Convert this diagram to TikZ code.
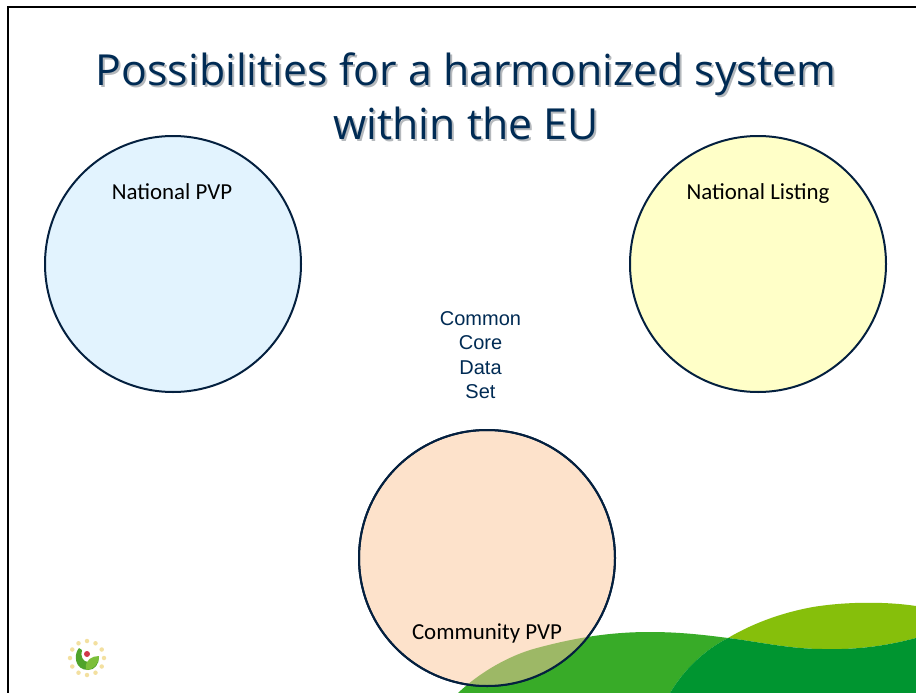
\documentclass[tikz,border=0pt]{standalone}
\usepackage{fontspec}
\setmainfont{Open Sans}
\newfontfamily\calib{Carlito}
\newfontfamily\lib{Liberation Sans}
\definecolor{navy}{HTML}{002B54}
\definecolor{ring}{HTML}{04203F}
\definecolor{midg}{HTML}{38AB28}
\definecolor{darkg}{HTML}{009530}
\definecolor{limeg}{HTML}{86BF0B}
\definecolor{blend}{HTML}{9DB866}
\definecolor{shadowc}{HTML}{B4B8BC}
\definecolor{pvpfill}{HTML}{E2F3FE}
\definecolor{listfill}{HTML}{FFFFC8}
\definecolor{commfill}{HTML}{FDE2CB}
\definecolor{starc}{HTML}{F3E0A0}
\definecolor{logod}{HTML}{4FA32A}
\definecolor{logol}{HTML}{7CBF3A}
\definecolor{logor}{HTML}{D0384A}
\tikzset{
 venn/.style={circle,draw=ring,line width=2pt,minimum size=256pt,inner sep=0pt},
 lbl/.style={font=\calib\fontsize{22.9}{27}\selectfont,text=black,inner sep=0pt,anchor=base},
 ttl/.style={font=\fontsize{42.8}{54}\selectfont,align=center,inner sep=0pt},
 core/.style={font=\lib\fontsize{20}{24.4}\selectfont,text=navy,align=center,inner sep=0pt},
 star/.style={circle,fill=starc,minimum size=4.5pt,inner sep=0pt}
}
\begin{document}
\begin{tikzpicture}[x=1pt,y=-1pt]
\useasboundingbox (0,0) rectangle (916,693);
\fill[white] (0,0) rectangle (916,693);
% hills
\def\midhill{(458,693) .. controls (480,672) and (510,655) .. (537,648) .. controls (585,635) and (620,632) .. (650,632) .. controls (680,632) and (705,635) .. (728,638) .. controls (705,650) and (685,668) .. (670,693) -- cycle}
\def\darkhill{(670,693) .. controls (685,668) and (705,650) .. (728,638) .. controls (760,642) and (790,649) .. (823,649) .. controls (860,650) and (890,645) .. (916,638) -- (916,693) -- cycle}
\def\limehill{(728,638) .. controls (755,622) and (785,612) .. (813,607) .. controls (850,601) and (890,602) .. (916,606) -- (916,638) .. controls (890,645) and (860,650) .. (823,649) .. controls (790,649) and (760,642) .. (728,638) -- cycle}
\fill[limeg] \limehill;
\fill[midg] \midhill;
\fill[darkg] \darkhill;
% frame
\draw[black,line width=2pt] (8,693) -- (8,7) -- (916,7);
% circles
\node[venn,fill=pvpfill] (pvp) at (173,264) {};
\node[venn,fill=listfill] (listing) at (758,264) {};
\node[venn,fill=commfill] (community) at (487,558) {};
\begin{scope}
\clip (487,558) circle (128);
\fill[blend] \midhill;
\end{scope}
\draw[ring,line width=2pt] (487,558) circle (128);
% title
\node[ttl,text=shadowc] at (468,98) {Possibilities for a harmonized system\\within the EU};
\node[ttl,text=navy] (title) at (466,96) {Possibilities for a harmonized system\\within the EU};
% labels
\node[lbl] (l1) at (172,199) {National PVP};
\node[lbl] (l2) at (758,199) {National Listing};
\node[lbl] (l3) at (487,639) {Community PVP};
\node[core] (cc) at (480.5,355) {Common\\Core\\Data\\Set};
% logo
\foreach \a in {0,30,...,330}
  \node[star] (s\a) at ({87+17*cos(\a)},{658+17*sin(\a)}) {};
\fill[logod] (79,648) .. controls (73,655) and (75,670) .. (88,670) .. controls (95,670) and (99,664) .. (99,657) .. controls (95,661) and (92,662) .. (88,662) .. controls (83,662) and (80,656) .. (82,650) -- cycle;
\fill[logol] (86,668) .. controls (85,660) and (92,656) .. (99,656) .. controls (99,664) and (93,670) .. (86,670) -- cycle;
\node[circle,fill=logor,minimum size=6pt,inner sep=0pt] (dot) at (87,654) {};
\end{tikzpicture}
\end{document}
